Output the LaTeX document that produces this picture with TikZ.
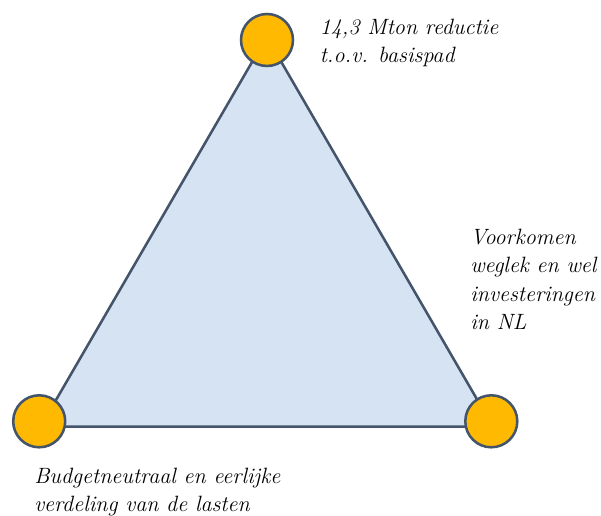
\documentclass[tikz,border=0pt]{standalone}
\usepackage{fontspec}
\usepackage{tikz}
\usetikzlibrary{positioning}
\definecolor{edgeblue}{HTML}{44546A}
\definecolor{dotorange}{HTML}{FFB900}
\definecolor{trifill}{HTML}{D6E3F3}
\begin{document}
\begin{tikzpicture}[x=0.75pt,y=-0.75pt,
    vertex/.style={circle,draw=edgeblue,fill=dotorange,line width=1.9pt,minimum size=39pt,inner sep=0pt},
    goal/.style={font=\itshape\fontsize{16.6}{21.4}\selectfont,align=left,inner sep=0pt,anchor=base west}]
    \useasboundingbox (0,0) rectangle (601,516);
    \coordinate (A) at (266.7,36.8);
    \coordinate (B) at (40.5,426.7);
    \coordinate (C) at (492.9,426.7);
    \draw[edgeblue,fill=trifill,line width=1.9pt] (A) -- (B) -- (C) -- cycle;

    \node[vertex] (top) at (267,40) {};
    \node[vertex] (left) at (39.2,421.3) {};
    \node[vertex] (right) at (491.3,421.3) {};

    % anchor is the baseline of the last line
    \node[goal] (reductie) at (319.5,63) {14,3 Mton reductie\\t.o.v. basispad};
    \node[goal] (weglek) at (470,330) {Voorkomen\\weglek en wel\\investeringen\\in NL};
    \node[goal] (lasten) at (34,511.7) {Budgetneutraal en eerlijke\\verdeling van de lasten};
\end{tikzpicture}
\end{document}
